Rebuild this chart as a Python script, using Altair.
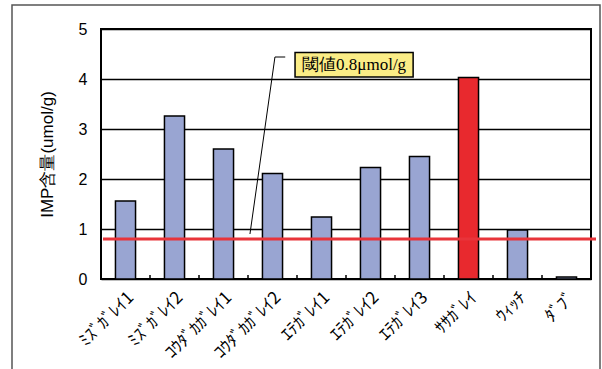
import altair as alt
import pandas as pd

# IMP content by species (umol/g)
categories = ["ﾐｽﾞｶﾞﾚｲ1", "ﾐｽﾞｶﾞﾚｲ2", "ｺｳﾀﾞｶｶﾞﾚｲ1", "ｺｳﾀﾞｶｶﾞﾚｲ2", "ｴﾃｶﾞﾚｲ1",
              "ｴﾃｶﾞﾚｲ2", "ｴﾃｶﾞﾚｲ3", "ｻｻｶﾞﾚｲ", "ｳｨｯﾁ", "ﾀﾞﾌﾞ"]
imp_values = [1.56, 3.26, 2.60, 2.11, 1.24, 2.23, 2.45, 4.03, 0.98, 0.04]
highlight = "ｻｻｶﾞﾚｲ"
threshold = 0.8
threshold_label = "閾値0.8μmol/g"
y_ticks = [0, 1, 2, 3, 4, 5]
y_title = "IMP含量(umol/g)"

W, H = 490, 250
n = len(categories)

bars_df = pd.DataFrame({"species": categories, "imp": imp_values})

# category boundaries for the small inward ticks on the x axis
bounds_df = pd.DataFrame({"b": list(range(1, n)), "y0": [0.0] * (n - 1), "y1": [0.08] * (n - 1)})

# leader line and label box of the threshold callout (x in category units)
leader_df = pd.DataFrame({"x": [3.04, 3.55, 3.76], "y": [0.9, 4.44, 4.44], "o": [0, 1, 2]})
box_df = pd.DataFrame({"x": [3.96], "x2": [6.37], "y": [4.04], "y2": [4.53],
                       "tx": [5.165], "ty": [4.285], "label": [threshold_label]})

sans = "Liberation Sans"
cjk = "Noto Sans CJK JP"
serif = "Liberation Serif"

y_enc = alt.Y(
    "imp:Q",
    scale=alt.Scale(domain=[0, 5], nice=False),
    axis=alt.Axis(
        values=y_ticks, title=y_title, grid=True, gridColor="black", gridWidth=1.5,
        ticks=False, domain=False, labelFont=sans, labelFontSize=16, labelColor="black",
        labelPadding=14, titleFont=sans, titleFontSize=17, titleFontWeight="normal",
        titleColor="black", titlePadding=22,
    ),
)

x_band = alt.X(
    "species:N", sort=categories, title=None,
    scale=alt.Scale(paddingInner=0.59, paddingOuter=0.295),
    axis=alt.Axis(
        labelAngle=315, labelAlign="right", labelBaseline="top", labelFont=cjk,
        labelFontSize=17, labelColor="black", labelPadding=10, ticks=False,
        domain=False, grid=False,
    ),
)

x_units = alt.Scale(domain=[0, n], nice=False, zero=False)

frame = alt.Chart(pd.DataFrame({"k": [0]})).mark_rect(
    fillOpacity=0, stroke="#555555", strokeWidth=1.5
).encode(x=alt.value(-89), x2=alt.value(499), y=alt.value(-24), y2=alt.value(420))

bars = alt.Chart(bars_df).mark_bar(stroke="black", strokeWidth=1.5).encode(
    x=x_band,
    y=y_enc,
    color=alt.condition(alt.datum.species == highlight, alt.value("#e8292e"), alt.value("#99a5d2")),
)

ticks = alt.Chart(bounds_df).mark_rule(color="black", strokeWidth=1.5).encode(
    x=alt.X("b:Q", scale=x_units, axis=None),
    y=alt.Y("y0:Q"),
    y2="y1:Q",
)

thr_line = alt.Chart(pd.DataFrame({"k": [0]})).mark_rule(color="#e8343a", strokeWidth=3).encode(
    y=alt.datum(threshold), x=alt.value(2), x2=alt.value(W + 5)
)

leader = alt.Chart(leader_df).mark_line(color="black", strokeWidth=1).encode(
    x=alt.X("x:Q", scale=x_units, axis=None),
    y=alt.Y("y:Q"),
    order="o:Q",
)

box = alt.Chart(box_df).mark_rect(fill="#fbed86", stroke="black", strokeWidth=1.5).encode(
    x=alt.X("x:Q", scale=x_units, axis=None), x2="x2:Q",
    y=alt.Y("y:Q"), y2="y2:Q",
)

box_text = alt.Chart(box_df).mark_text(font=serif, fontSize=17, color="black").encode(
    x=alt.X("tx:Q", scale=x_units, axis=None),
    y=alt.Y("ty:Q"),
    text="label:N",
)

chart = (
    alt.layer(frame, bars, ticks, thr_line, leader, box, box_text)
    .resolve_scale(x="independent")
    .properties(
        width=W, height=H,
        autosize=alt.AutoSizeParams(type="none"),
        padding={"left": 101, "top": 29, "right": 11, "bottom": 90},
        background="white",
    )
    .configure_view(stroke="black", strokeWidth=2)
)

chart.save("out.html", embed_options={"renderer": "svg", "actions": False})
